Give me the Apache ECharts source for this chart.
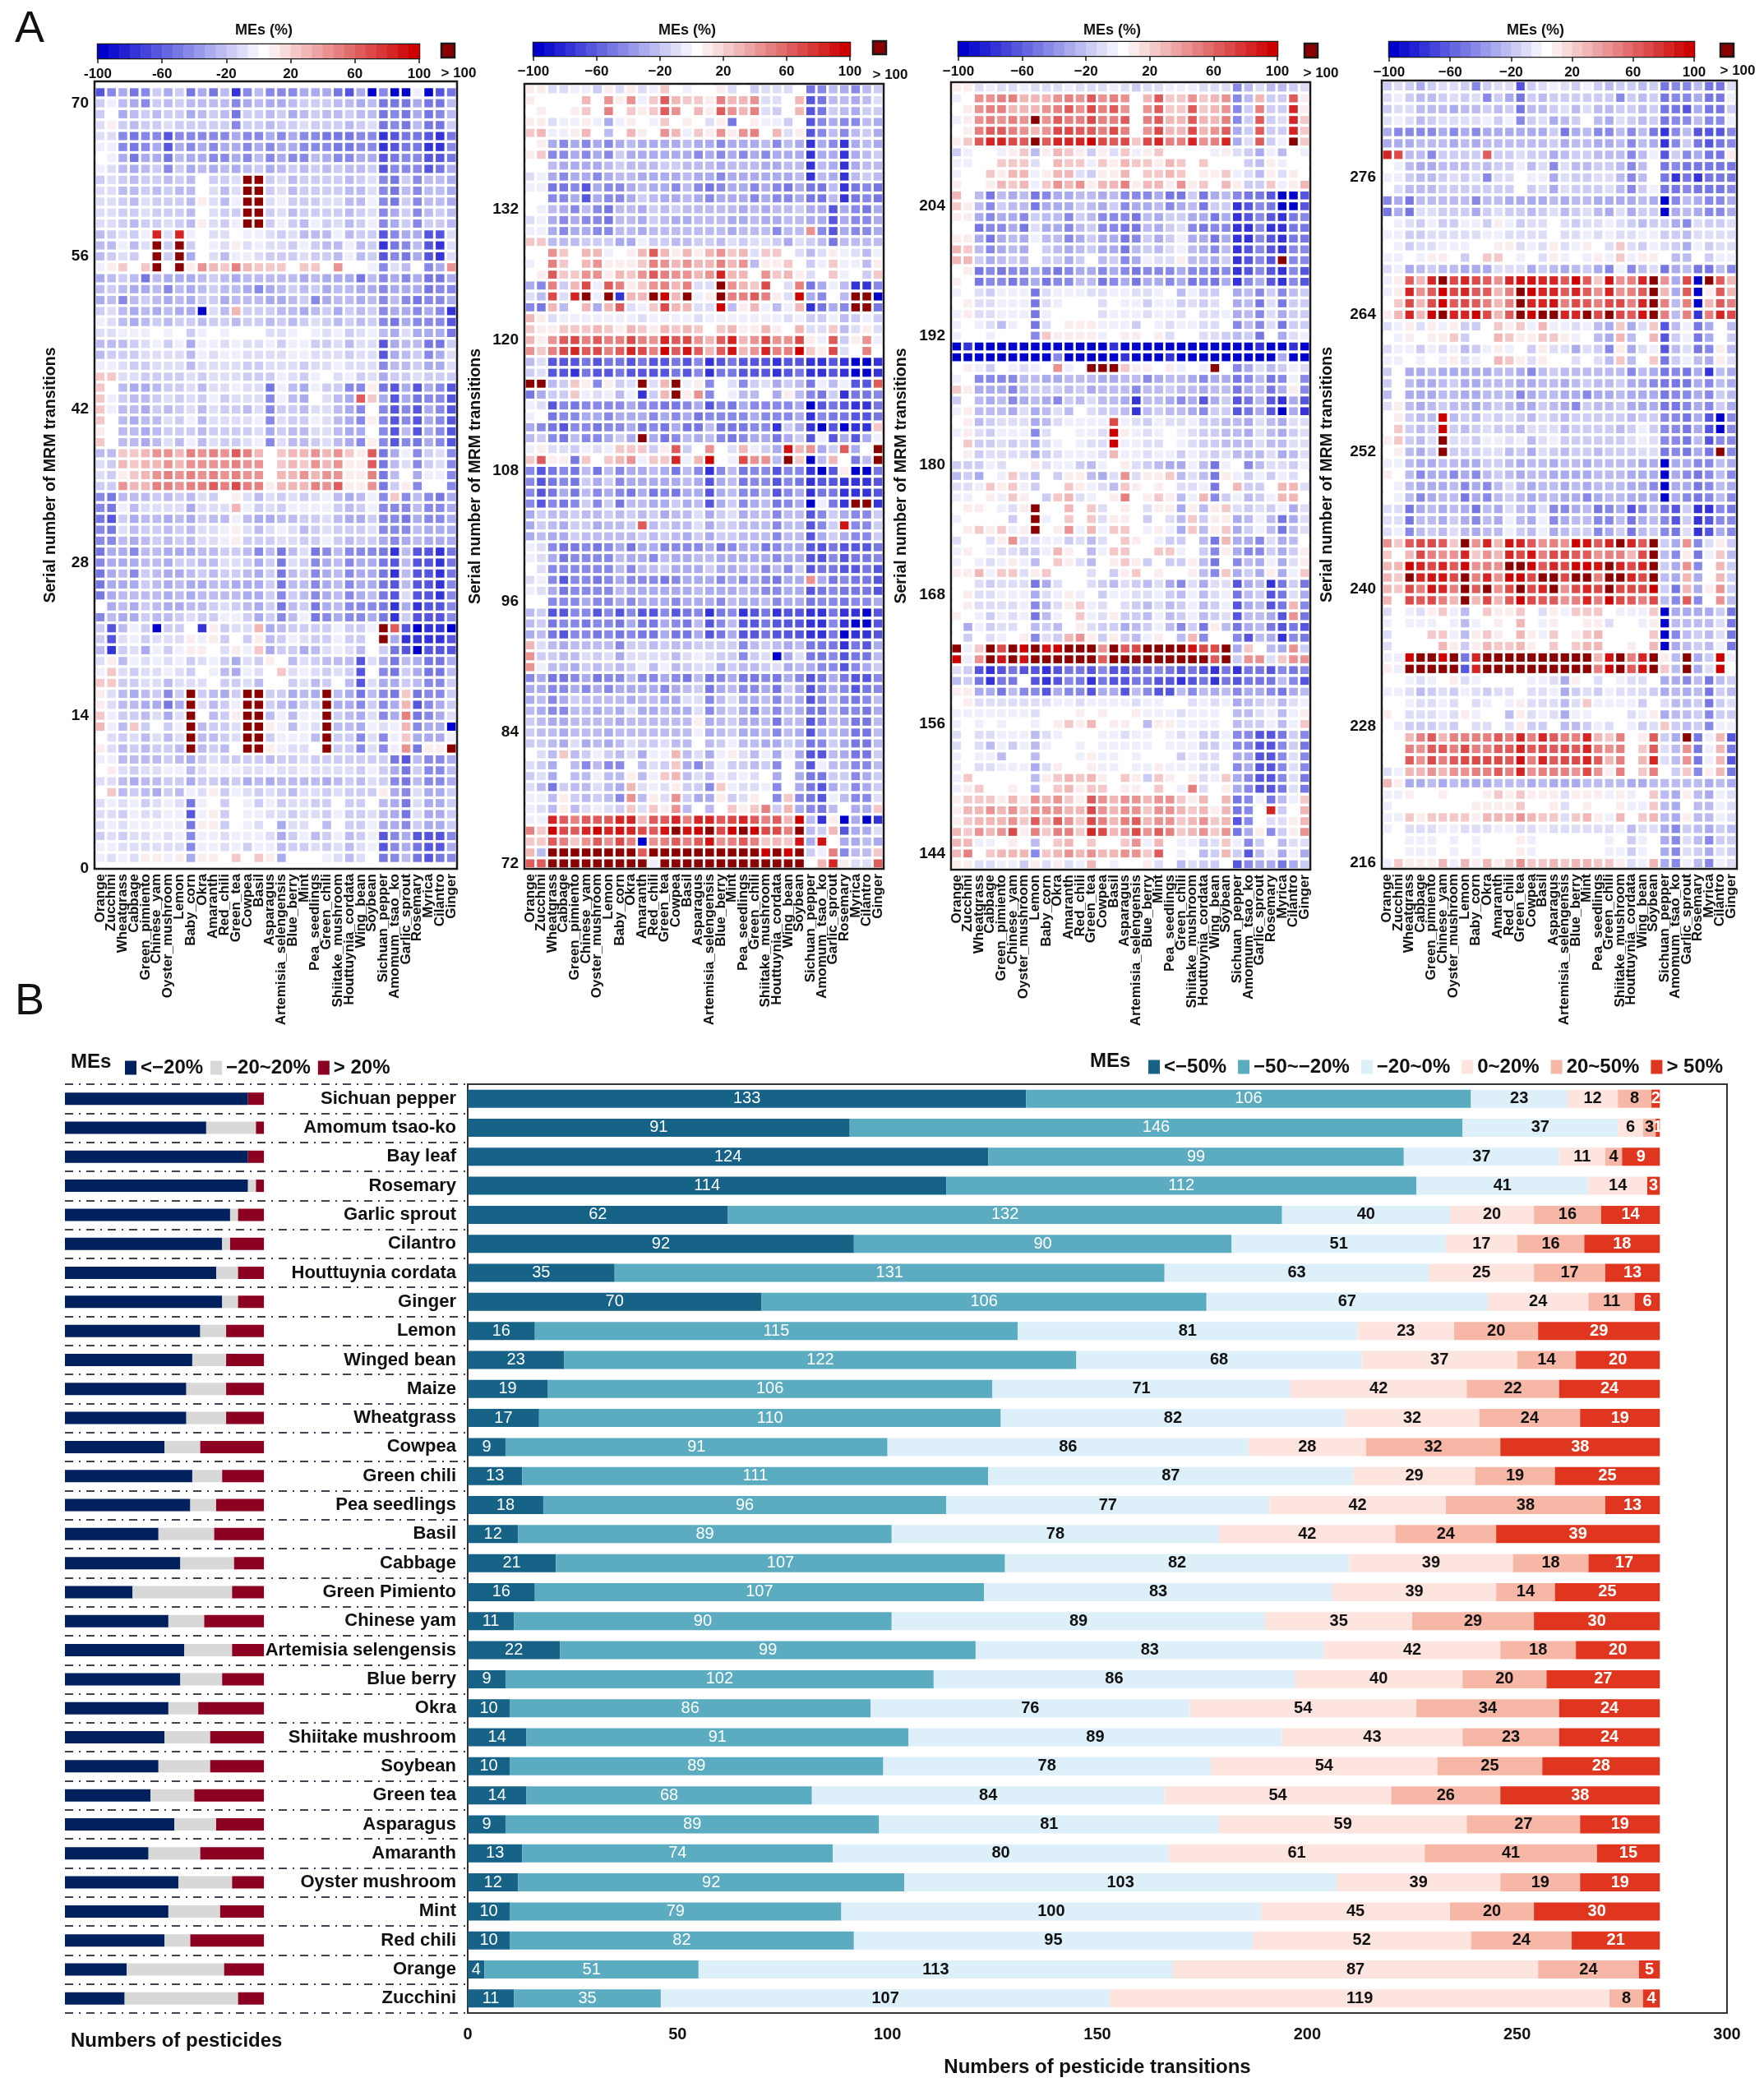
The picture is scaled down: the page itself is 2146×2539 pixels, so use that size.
<!DOCTYPE html>
<html>
<head>
<meta charset="utf-8">
<style>
  html, body { margin: 0; padding: 0; background: #fff; }
  #chart { width: 2146px; height: 2539px; }
</style>
<script src="https://cdn.jsdelivr.net/npm/echarts@6/dist/echarts.min.js"></script>
</head>
<body>
<div id="chart"></div>
<script>
// heatmap columns (same for all four panels)
const heatColumns = ['Orange','Zucchini','Wheatgrass','Cabbage','Green_pimiento','Chinese_yam','Oyster_mushroom','Lemon','Baby_corn','Okra','Amaranth','Red_chili','Green_tea','Cowpea','Basil','Asparagus','Artemisia_selengensis','Blue_berry','Mint','Pea_seedlings','Green_chili','Shiitake_mushroom','Houttuynia_cordata','Wing_bean','Soybean','Sichuan_pepper','Amomum_tsao_ko','Garlic_sprout','Rosemary','Myrica','Cilantro','Ginger'];

// MEs, one letter per cell, one string per row (top row first)
const levelValue = { '.':0, a:-5, b:-10, c:-20, d:-25, e:-32, f:-42, g:-52, h:-65, i:-80, j:-95, A:10, B:20, C:30, D:40, E:50, F:60, G:70, H:80, I:90, J:100, X:150 };

const panel1Rows = [
'hfegfcec gegdifdf ffeeeghe jfjjajhg','cadefcdc ddddfede edcccdde dgggeggd','c.edcdcc edcdgccd cedcddcd dgfgegfd','bAcdccbc ccccfccd ccbcccdc bgfgdggc',
'bbfgffhf ffffeffe feffgggf fihgghig','aafgfehe fefeefef eefffggf fihggiif','.aegeegd eeffefdf effdeffe ehgffhhg','abdedcfc edededce dcdcdcdd chfffhge',
'cbcdccdc d.ccbXXc bdccccdc bfgcfdde','bbddcdcd d.bdbXXc bdccccdd bfgdfdde','bbcdbccc dAbdaXXb acccbbdd afgcfdde','bbccbccc d.bccXXc bdccccdc bfecfdcd',
'bbcdccbc dAbcaXXc acdacbdc afecfccd','dcbcaHbH a.bb.aab cbdddadc chfeehhb','ddadbXcX c.abAbab bcacddad cigfdhib','dcbc.XcX e.bdaabc ccbccdad chfgehib',
'aAB.BX.X ADCBECBB B.BB.D.. afbd.feD','edcdgdee edcdeddd ddedeeeg dfefegge','dcdeedfd edcddefe dcdcedde efeeegff','edfdcded ecceddde edcfedde dfdfgffe',
'cbdedede ejbdCccc ddedcecd cfeefefi','abdedcdc cdccdccd cdcbcdcd cfgefffh','bbaaa.a. ca.a...b ba.abacb adebeeeg','dddcbaca eaababba caaccbdb bheddggc',
'dcccbbbb dabaabbb baabbbcb bhedcfeb','aabccbbb dbbbbccb bbcbbabb bfddceeb','BBbbcccc bcbbbccc abca.bac beccbccc','B.deedcc bdbbabbg adeaccff Aghehefh',
'Bacddcbc bcacbbbf ade.bdeF Behegffh','Baddecdc bdbccdbf ccdbbdef .fhfhefh','B.deddbc adbbbbaf bccabdef Afhfhefh','A.ddedcc cdccccbe cddbbdee .fhdhefh',
'B.ddedbd adbccbaf bddcbdef Afhfgefh','ddBBCDDC EDEDFEC. BCCDCDBA Fgeafcbf','bcCBCCDC DDDDEDD. BCBDCDAA Fgdbfcbf','bcABCDED EDEDEDD. CCDCDDAA Egd.eaaf',
'ccDCCEED EEFEGEEA CCCEDFAA DgcAf..f','fgdddcdc dbc.Abdb cbcbaded afBfdfge','fgadbbbb ebbbCacb caaaacdc afffdffe','ghcedded ecddadee ddccbdee cffgeffe',
'fgbdccdc dbbaAbdb abdcbccc bfffdeee','ffdedcdc dbbaAccc bbccacdc cefedeee','geefddee eddccdfd gdbgfdff fgidhhig','feeeddec cddbbcec gbcfedfe eghdhhig',
'gedfcdee dcdccdec gdcfedfe egidhhig','geeecded eeddeeec gddfedfe eghdhhif','gedddded eddddeec fcdfedfe dghbhhif','.edecdee ddcbcdec gdcgedff fgieihhf',
'fdeecddc bccaacec fdagfeff egichhhf','chdacjcc .iAcbbCe dccccacc aXFhjiij','chbacbbb AaAc.cAd cabccacc .Xeiiiih','dicbeaca AA.bAaBe ccedbabd .cghjhhh',
'bAdababa cbacebcA .dbcdddh begdegge','aBbcbbab c.adeab. Bbabcbch .fgceggd','BBccbbdb bb.ccbd. .cbdc.dh beecdffc','Abdedcfc XcdecXXc cedeXdeg dfgBgffc',
'Abddeege XbdcaXXc deccXeef cfeChfec','Baccdbeb X.dcAXXd adaaXcde bfeEgfeb','CadBc.ca XdccbXXA adabXdde abaCfeej','.bcbdbdb XddcbXXc aaadXccf bfaBeeea',
'Abdcdccd Xdcd.XXA abb.Xccf bfaDgAAX','aaddddcd ecbccccd ccbccccc ccghdffe','.Abcbbaa dbaaabba bbabbbbc acegcffd','bbdeddcc eccdcede ddddedcd bcfgdffe',
'.Bdcdecd abAcabcb cdbbcbcc cAefbeec','babacbab ga.c.aca cbbcc.cc .degbeec','bbcabbaa haAc.aab bcbbcacc bdegbeec','babaaaaa gAAc.ab. ebb.d.cc aeefceec',
'cbcbbaba faabaaab ecadcadc ahfehhhf','aabbbbbb faabacaa dccbcbdb ahfeghhe','ababAAaA eAA.B.BA e...abdb .gfdghgf'
];
const panel2Rows = [
'AAbbaacA bAbaB.a. .Ab.cbbb .gfdefdc','A....C.D ADaBFCBB AECCDbb. Chgddedb','.A..AB.E .BABFD.C AFDCEbc. Chgcdecc','AAbaaAae aA.aB.A. bAg.Aaac .hfeffde',
'BCaaAC.d .CA.DCaB ADADE.Cb Ahfdfdce','.Aefefef edeeeede efeeedfd eiefiede','ABffefef ceeeeeef efefefee eieeiedc','..deeeed cdddccdd dedddeed dideiedd',
'baefeefe ddeeeede efeeeeee dideidcd','aaggfhef fedeefdf gfeefefg eggdigfg','..ffehef fecdeede feeefeff eggdigfg','.adefdfg ddecdcdd dddededd ceehefge',
'baefeffg ddecdeed ddeedeed deeheffe','aaefeeff ddeddddd ddedddfd dDfheffe','BBdddccc eeaccddc cdbcbbce bcdgdddd','..DB.CCa .ACFCACA CDBCbBB. bdbAabda',
'a.EB.CDA AABEDCDC CECDdAAB .caBaadA','.AFBBDDA CBDFEDDC DHCC.DBC Ab.Ba.cB','efEcCGaF EABDECEb bXDCBG.b Egeadiif','bdGbHXaX iCCXJCXa AXEEFEAb Jef.dXXj',
'fgCd.CeC FbaBGCCb bJdACada CigefXXg','CAbaaaaa aabaaaab aaaaaaab accadcac','BAABBBCB ACBACBCB .BCAACA. CbbBdbAb','CADFGEFE EGEDHFGD CFHCDGDD GAaFcADa',
'DBEGHFGE FHGEJFIF CFICDHEE JBAGb.E.','dbhhhghg ghghhghf ihghhhih hiihijji','cbhhighh ghhhhghf igghhhih giihijji','XXdcBAfA cbXbCXaA f.bfcbec dgadahhF',
'geccBaba daicCXAD f.add.eA dfgciggf','abhfgfff feffggfe hfgeffff ejhghiig','a.gffeef eeefefeg ffffefff eifgghhg','efghffgf fegfgegg dgggffic eijhjiiB',
'dcfgdffe ceXegfde dfgfeege chahehea','aAbbcaba BBBcAFc. D.bCaceI CDecFe.X','BFAAgB.B CDaBBHaC J.aGDDdX BjdC.gdX','fhgfgdgd feedegdf ifdgffhf fijhAjjg',
'fhgfgcec feeeeede hedgffhf gihhiiih','fhgegdfe fgegfgee hedffehf eiggiiih','fhfgfcfc gddeeced hecfedgf ejagiXXi','ecddcddc dcdceddb ecbeddfd dhfceffc',
'ecdecced dcFdcddb eccdddfd dhfcIffc','edeecddd ddcdcdec eccdddfd dheceffc','abfggfgf egeeffff egfeegfe ehhghhhg','abegffff deefdeed deeeeefe ehhfhggf',
'.bffffff dfddceee ceeddfdf chgghhgh','bafhffgf efffgfee efefefge eDegfggh','abegffff deeeeeed eeedeffe ehgfgggh','..fffeff efeeefee efdeedfe egffgffe',
'dchhffhf hfhhfhgf igfihgih hiigiijh','dcgffgff geggefgd hfdhhghh hiifijjh','edghffgf gfggegge hgehhghh hiigjiih','Cbdedddd fccdcddc cccfdcde dgggighe',
'Dccddbcb ebbbbdba bccfcbje bggfhggd','Daddecdc dcadadcb becddcbe deffhfec','feggfegf fdffefgd gfeggfge fhgeghhf','eeffefef eeeefedc gedffegc ehfefhgf',
'edfecddd deddeebb fdbeedfd ehfdfgfd','deffdded ebeedeeb fdcefdfd eggdffge','cdeedddd eddddddA edceedgd dhfdeggd','cddeddde ddddddda edceedfd ehedeggd',
'ccdebede dbccbdd. dcaddeec dgfceggd','.bdBdcac dbeaaCdb eaAbdaea ehhdeggc','bce.dfdf f.dbcBef daccdcf. ehaddffd','cbe.ddad dAdaBCdb dabab.e. eggccfec',
'bdgcddbd eCbabAcc fBabbaf. eghecfec','aadAcdcd fDdAbDce eAcbA.fB fghadffb','abdAdbab cBbBADd. d.BABEcC efgd.eeB','aaHFEFFF HHCFFHEH HFGHFEFC JdiAjeji',
'EBJGFHJH IHGFIXIJ XGJXJGGE XdcCheeb','BBFEBDFD GEjDEFEF IDEFEBCB IeI.eede','CdXXXXXX XXFXXXXX XXXXXJXJ XcaEfddB','FFXXXXXX XXXaXXXX XXXXXXXX X.CHAbbF'
];
const panel3Rows = [
'AAbabbab bbabbbab cbbaaabb bfdbddcb','a.DDEECC CDEDFDED .CFBBDBC DfdCccFA','.ADEECCC DEFDGEFD .DFBBFBC DfcEccHA','aADEDEDX DFEEGEEF .EFCCFCC EfcFcbHB',
'.AEFFEDC DGGFFEGE .DGCCGCD FecFccHB','ABFHHGFX FHHHJGFG BGHEEHDE HebFcaXB','ca..aABd ACBAcAbB aAB....a Abcead.a','aa..BBBb .CBBaBAC BBACB.B. ..cdAa..',
'a..BACCa ACCbcAAC .BBCB.AA BabdAbA.','A..ACBCa BDCDACCE ACCADAB. CAccBaAC','C.dgdedg feeddedf ffeggcge dfgghjjh','BAdfcddg eeecdecf eedfedgc cihfgjjh',
'AAefeefc ddfcdfff gdecceeg eihfhigf','..gffegb eefdcffg gdecbfgf fiifiigg','AAegedea ddfeceeg fcecaeeg eiifhigg','CBdfede. cdedceeg dcdbadef dihfhiff',
'CCcedcd. ccec.dcf eabbAdde cihfhXff','.Agfgffe fgfeefef gfffeffg fihfhifh','A.gffgfe gffddgfe geefegfg eifehifh','a.bcaaag baaabbaa bba.dacc .edfcfdc',
'.Abbaaag ba...b.a acaacbcb .edgbgcc','aAbbaaag a....baa abaab.bb aedfbecc','a.abda.g b.AAAaaa c.abaabb .fdfbgcc','a..a...f BAAAAa.A A.Ab..bb cdcg.eba',
'jijjjjjj jjjjjjij jjjjjjjj jjjijjij','jjjjjjjj jfjjjjji jjjijjjj jjjjjejj','.Aac.aba .Da.XXXB AA.Aa.aX .febdcab','a.ffffdd eedddeed dfeddefe egfdgfaf',
'BAeeefdc ccdceddd fddcdded dgedgeAf','c.dedfed efcdbdde iddefehe chgdhieh','aAdddebe dbd.bccd idcddefc chgehjei','.Adcbbbe dbaaaaGa bcabbacc ddebdebb',
'aAbcaaaf b..aabJA aba.abcc ddebdecb','.Bccbcbe ba.abbJa abb.abcc dddbddbb','.Acbbbbe cbaaabCa abaacabc bdddbedb','cccab..A baacda.A bcdeeadg a.fdbbca',
'dce.aBbd .cAAdebD bAABdbdg Aacacab.','bbaBABac ..BAabdB A.A.bbag .Ccc.CCb','aa.AaBA. cBCba.AE .ABAdaCf cadcaCC.','.AA.abAX ..C.Bb.A .bAAeAdA Bbcbcaeb',
'a....c.X a.B.BbAA .c.bdBcA Aedadgeb','.ABABaAX .ADaCaBB .aAaeBdA Becadgdb','b..bADbb aacbdb.B A.acc.dg Ceefbed.','aA.abbcc aCA.daBB ..BBa.cf AeffcecA',
'a.abaAad .BAbd.AB Ac.ccAdg .fdeaebA','AACaBBbA B...b.cA B.A..Adf BeceAeaB','..bcbbbg eb..bcdb cdbefbeb bhedigcg','.Abbaaae baAa.caa bbacdadb agdchgbe',
'.Abbbbaf dbABab.b cdbdcadc ahedhgCf','A.acabag da.BabAc cdadcadc bhddehDg','.eacbb.d cd.Abcce dcadfcgA dgedghgh','.c.ba.Af bcCDAcAc daA.dCf. .fhdeifg',
'XaBXGXJX IJXXXDXF GXXXXIGG XeB.deDc','JaDXIXIX XXXXXFXX XXXXXXXF XcDDbBDD','bchihghh ihgghfhh ggfghghi gigghfgf','dcgigg.h ihfgighh gghhihgi ghgggdfh',
'AAeegdff heffheeh dfhhdfde dfeefged','.Abbbbbb baabaaaa baa..bab aedcbdba','aaaaaaab ...A.A.. Aaaabaaa .ddbadaA','a.a.a..a .ABAC.AA .dAAaaaa .dccadaB',
'b.bbaaad ba...aab aa.abacc affhhgcf','b.bdacad a..a.aaa aa.aaacc affhhfcg','a.aad..d ...aAaa. a...cabb .eehhfbf','a.bbaaae bA..Aaa. aaAaaabb .fehhfbf',
'aB.....d ABCBCA.B AcBA.Aba Befhhfbg','aAB..A.d .BCABB.A A.B.aEb. Aefhhgbg','ABBBACAD CDBAFDCD DCDDBAC. CgfagdaB','ACCDCDBD DDCCGDCD DBDDCBCA Cgf.Hc.C',
'ABCCCDBF CFDBGECE FCDDBCDB Chf.bbAC','CBDCDGAE BEEBHGCD GDFEBCDB DgeAfcAD','CCaa.A.d .BC.B..B DaC.aacb Bafc.dbb','CE.BCCCf BCDCDCCD DBF.a.dc Cchdaeae',
'AAbbaacA bAbaC.a. .Ab.dbcc .hfeegec'
];
const panel4Rows = [
'cbcecbbc fcbbhcba bcacdccd cgffdggb','bacddcbc bfcegcdc cccccfcd cgffegga','cbbddded dcdcgddc bdbddccd cggheggc','babdcbbb bacafcbe dc.debcd cgffdffa',
'effffefe feeeeeec gedffdfd gifdhhhf','eeeddded eddddddc eddeedfd eifcghgf','HGddfccc cFccbcce dccdddfd ahcfeggA','.adeeddd cdccadbf bddccdfd .gfggggg',
'aacddcbc bfbb.aae bccbbdfd .gigiggg','.bdddccc cccc.cbe bcccbdfc aggfgggf','fegddddd fddeeeed eddeeeed ejfdeffe','gegbbccc ecbccdcb dcbdebec cjedeffe',
'.abcacca acAacbb. bcbbabcd ccefbccb','aaccbbbb baabbbb. bbababba accdbbbb','.acbbaaa ..AAbabA baA.bBbc abceacbb','aa.aAA.c .BB.a.bA a.aAaBaA A.dd.caa',
'baedcdde eebbbecd edcefafd bgedggdf','aAFCHXGH GFDHIIHH FJFBIDEH XDeGjXFC','aAHDFJGH FFCEXJHH FHFDHDEF XCeFjAFC','.BGCGJFG FECEXHHI EGFEGGEH XEdEjCFE',
'ACHCJXHH JGCFXJXX HHXGXGFI XEdEiEHG','baAbAaAc c.BABaCa abadeBeb Bhdage.d','.aA.AABc ..CBAABB Aa.deCd. Chcage.c','baacabad caAa.cAb bebcfAeb ahdbgfAd',
'aa.a.aAb a.CBAbA. .b.bdBd. BgcadeAb','c.eedeee eeddefdc ddddddfd egfgeide','c.deedce edddeedd edcddcee fgggefde','d.eeedde edddfedd eefeedee egffefcd',
'bAdedcdd edcdeecd efcddcee eggfefce','.AcddJdc dbcbcdbc dcccccdc cffgehjf','.BcdcJcd cbccdbbb dccccdca cffgehjf','ABcdbXbb caabadba ccccccba bffgdhff',
'.AdecXcc cbbdcebc dccdcccb bgfgegXf','aadeedde eccdedde ddedddde ejeeffde','A.dfeefe fdcdedde eeedddee ejefgfdf','.adeeedf efdbdedd ededddee fjeegfde',
'.adfeddg efdcdedd eefeddee ejefgfdf','bbgedede gdebdebf fedgfehf dghciifg','bbgddece fdeadeaf eddffdge dfhcihff','bafdcdbd eddacdae dccfecgd cfgbihef',
'DBFGGFBX DHCIHFDE DJIFHXHF XceDfbAc','B.CGEDDH BDCHGIEG GFFDEECG XdfAgaBd','CCJHGHFJ DEDXXJFH GJJIXHGH XceDf.Cc','CBXHIIGX EHDJJGXX GXXEXXHG XdeCe.Cc',
'CBGEIHEX FXDGXGHX DGHGXGGG JcgCeADc','C.GFGECX CGCFJGFF DEHEJGFE GdfFf.Dd','b.abABad .BAAB.bA aBBB.aaa Bjeeeecg','a.aaa.ad a.A.C.aA ..AAb..a Ajddddbg',
'b...BBad ABA.CAaB .ABC.... Bjfdcdbg','b....CAc ACBBCA.B .BCC..A. Cjedcdag','aaJXXJXg HXXXXXXX XXXCIXEH XAdXecJa','AaXXXXXh HXXXXXXX XXXEJXFI XBdXebJ.',
'..aba.Ab a....aab eA.b.abb .eefdgdc','aabdcbca bcbb.bba ecbcabbb cededgcd','..abbab. ba.aAbbb dbBaaaac .bddcgcb','A.bbbabA a..dAbab eaa...ba Aeddcfcc',
'.acccbc. bb.bAcc. ddcab.ac bBcdcfaa','..CEFCEE EEFEHEHF EEHCBE.A FceXgaCh','..EDFFEG EEFFHFGF GFHEDE.B FbdDgaCg','..FDGEFG GGGFIEHF GGHFCE.C HbdDgaCh',
'baCCDCDD EEFEHDEE EDGDAE.B E.cBfACg','CAeedede eedddede eeddddee dddddede','aaA..A.. .ABABAAA bAAAaAa. BdeAdeab','a....... AAAAB..A b.A..Aaa Bde.ddab',
'aaBABBBB ACCCDCBB bBCAaC.B CdeAddab','a.bbbaab bbaabbab bbbbbadb befcdecd','..aaa.a. a...Aa.. ....a.ca .efbdfcc','..aaa.a. a...Aa.. ....aaca .efbcebc',
'aBAAACaC ACABDBBC BCCBBAba Cefadfab'
];

// y tick values of the panels
const panel1Ticks = [0, 14, 28, 42, 56, 70];
const panel2Ticks = [72, 84, 96, 108, 120, 132];
const panel3Ticks = [144, 156, 168, 180, 192, 204];
const panel4Ticks = [216, 228, 240, 252, 264, 276];
const colorBarTicks = [-100, -60, -20, 20, 60, 100];

// part B
const barCategories = ['Sichuan pepper','Amomum tsao-ko','Bay leaf','Rosemary','Garlic sprout','Cilantro','Houttuynia cordata','Ginger','Lemon','Winged bean','Maize','Wheatgrass','Cowpea','Green chili','Pea seedlings','Basil','Cabbage','Green Pimiento','Chinese yam','Artemisia selengensis','Blue berry','Okra','Shiitake mushroom','Soybean','Green tea','Asparagus','Amaranth','Oyster mushroom','Mint','Red chili','Orange','Zucchini'];
const below50 = [133,91,124,114,62,92,35,70,16,23,19,17,9,13,18,12,21,16,11,22,9,10,14,10,14,9,13,12,10,10,4,11];
const minus50to20 = [106,146,99,112,132,90,131,106,115,122,106,110,91,111,96,89,107,107,90,99,102,86,91,89,68,89,74,92,79,82,51,35];
const minus20to0 = [23,37,37,41,40,51,63,67,81,68,71,82,86,87,77,78,82,83,89,83,86,76,89,78,84,81,80,103,100,95,113,107];
const zeroTo20 = [12,6,11,14,20,17,25,24,23,37,42,32,28,29,42,42,39,39,35,42,40,54,43,54,54,59,61,39,45,52,87,119];
const plus20to50 = [8,3,4,0,16,16,17,11,20,14,22,24,32,19,38,24,18,14,29,18,20,34,23,25,26,27,41,19,20,24,24,8];
const above50 = [2,1,9,3,14,18,13,6,29,20,24,19,38,25,13,39,17,25,30,20,27,24,24,28,38,19,15,19,30,21,5,4];
const pestBelow20 = [92,71,92,92,83,79,76,79,68,64,61,61,50,64,63,47,58,34,52,60,58,52,50,47,43,55,42,57,52,50,31,30];
const pestMiddle = [0,25,0,4,4,4,11,8,13,17,20,20,18,15,13,28,27,50,18,24,21,15,23,26,22,21,26,27,26,13,49,57];
const pestAbove20 = [8,4,8,4,13,17,13,13,19,19,19,19,32,21,24,25,15,16,30,16,21,33,27,27,35,24,32,16,22,37,20,13];

const FONT = '"Liberation Sans", Arial, sans-serif';
const INK = '#1a1a1a';

// 30 steps blue - white - red, as in the colour bars
const colorSteps = [];
for (let i = 0; i < 30; i++) {
  let c;
  if (i <= 15) {
    const t = i / 15;
    c = [Math.round(255 * t), Math.round(255 * t), Math.round(205 + 50 * t)];
  } else {
    const t = (i - 15) / 14;
    c = [Math.round(255 - 50 * t), Math.round(255 * (1 - t)), Math.round(255 * (1 - t))];
  }
  colorSteps.push('rgb(' + c.join(',') + ')');
}
function meColor(v) {
  if (v > 100) return '#8b0000';
  return colorSteps[Math.min(29, Math.floor((v + 100) / 200 * 30))];
}
function decodeRows(rows, topValue) {
  const out = [];
  rows.forEach((row, r) => {
    row.replace(/ /g, '').split('').forEach((ch, c) => {
      out.push([c, topValue - r, levelValue[ch]]);
    });
  });
  return out;
}

const panels = [
  { rows: panel1Rows, top: 71,  ticks: panel1Ticks, min: 0,     max: 72,    box: [115, 556, 99, 1057],   bar: [119, 510, 54, 71],    nameGap: 43, minus: '-',      cell: [10.5, 10], key: [537, 53, 16, 17],   over: [558, 89], head: 321 },
  { rows: panel2Rows, top: 143, ticks: panel2Ticks, min: 71.5,  max: 143.5, box: [638, 1075, 102, 1057], bar: [649, 1034, 52, 68],   nameGap: 49, minus: '\u2212', cell: [10.5, 9.8], key: [1062, 50, 16, 16], over: [1083, 91], head: 836 },
  { rows: panel3Rows, top: 215, ticks: panel3Ticks, min: 142.5, max: 215.5, box: [1157, 1594, 100, 1058], bar: [1166, 1554, 51, 68], nameGap: 50, minus: '\u2212', cell: [10.5, 9.6], key: [1587, 53, 16, 17], over: [1607, 89], head: 1353 },
  { rows: panel4Rows, top: 284, ticks: panel4Ticks, min: 215.5, max: 284.5, box: [1681, 2113, 98, 1057],  bar: [1690, 2061, 51, 69], nameGap: 56, minus: '\u2212', cell: [10.2, 10.2], key: [2093, 53, 16, 16], over: [2114, 86], head: 1868 }
];

const grids = [], xAxes = [], yAxes = [], series = [], graphics = [];

function addText(text, x, y, font, align) {
  graphics.push({ type: 'text', x: x, y: y, silent: true, style: { text: text, font: font, fill: '#111', align: align || 'center', verticalAlign: 'middle' } });
}

panels.forEach((p) => {
  // heat panel
  const g = grids.length;
  grids.push({ left: p.box[0], top: p.box[2], width: p.box[1] - p.box[0], height: p.box[3] - p.box[2], show: true, borderColor: INK, borderWidth: 2.5, backgroundColor: '#fff' });
  xAxes.push({
    gridIndex: g, type: 'category', data: heatColumns,
    axisLine: { show: false },
    axisTick: { alignWithLabel: true, length: 9, lineStyle: { color: INK, width: 2 } },
    axisLabel: { interval: 0, rotate: 90, margin: 6, fontFamily: FONT, fontSize: 17, fontWeight: 'bold', color: '#111' }
  });
  yAxes.push({
    gridIndex: g, type: 'value', min: p.min, max: p.max,
    name: 'Serial number of MRM transitions', nameLocation: 'middle', nameGap: p.nameGap, nameRotate: 90,
    nameTextStyle: { fontFamily: FONT, fontSize: 19.5, fontWeight: 'bold', color: '#111' },
    splitLine: { show: false }, axisLine: { show: false },
    axisTick: { customValues: p.ticks, length: 10, lineStyle: { color: INK, width: 2 } },
    axisLabel: { customValues: p.ticks, margin: 7, fontFamily: FONT, fontSize: 19, fontWeight: 'bold', color: '#111' }
  });
  series.push({
    type: 'scatter', xAxisIndex: g, yAxisIndex: g, symbol: 'rect', symbolSize: p.cell, silent: true, progressive: 0,
    data: decodeRows(p.rows, p.top),
    itemStyle: { opacity: 1, color: (a) => meColor(a.value[2]) }
  });

  // colour bar
  const b = grids.length;
  grids.push({ left: p.bar[0], top: p.bar[2], width: p.bar[1] - p.bar[0], height: p.bar[3] - p.bar[2], show: true, borderColor: INK, borderWidth: 2.5 });
  xAxes.push({
    gridIndex: b, type: 'value', min: -100, max: 100, splitLine: { show: false }, axisLine: { show: false },
    axisTick: { customValues: colorBarTicks, length: 6, lineStyle: { color: INK, width: 1.5 } },
    axisLabel: { customValues: colorBarTicks, margin: 11, fontFamily: FONT, fontSize: 17, fontWeight: 'bold', color: '#111', formatter: (v) => (v < 0 ? p.minus + Math.abs(v) : String(v)) }
  });
  yAxes.push({ gridIndex: b, type: 'value', min: 0, max: 1, show: false });
  series.push({
    type: 'custom', xAxisIndex: b, yAxisIndex: b, silent: true,
    data: colorSteps.map((c, i) => [-100 + i * 200 / 30, -100 + (i + 1) * 200 / 30, i]),
    renderItem: (params, api) => {
      const s = api.coord([api.value(0), 0]);
      const e = api.coord([api.value(1), 1]);
      return { type: 'rect', shape: { x: s[0], y: e[1], width: e[0] - s[0] + 0.5, height: s[1] - e[1] }, style: { fill: colorSteps[api.value(2)] } };
    }
  });

  // title and the > 100 key
  addText('MEs (%)', p.head, 37, 'bold 18px ' + FONT);
  addText('> 100', p.over[0], p.over[1], 'bold 17px ' + FONT);
  graphics.push({ type: 'rect', silent: true, shape: { x: p.key[0], y: p.key[1], width: p.key[2], height: p.key[3] }, style: { fill: '#8b0000', stroke: INK, lineWidth: 2.5 } });
});

addText('A', 36, 36, '54px ' + FONT);
addText('B', 36, 1219, '54px ' + FONT);
addText('MEs', 86, 1292, 'bold 24px ' + FONT, 'left');
addText('MEs', 1326, 1291, 'bold 24px ' + FONT, 'left');
addText('Numbers of pesticides', 86, 2483, 'bold 24px ' + FONT, 'left');

// left stacked bars with the dash-dot separators
const leftGrid = grids.length;
grids.push({ left: 79, top: 1319, width: 489, height: 1130 });
xAxes.push({ gridIndex: leftGrid, type: 'value', min: 0, max: 202, show: false });
yAxes.push({
  gridIndex: leftGrid, type: 'category', inverse: true, data: barCategories,
  axisLine: { show: false }, axisTick: { show: false }, axisLabel: { show: false },
  splitLine: { show: true, interval: 0, lineStyle: { color: '#3c4250', width: 2, type: [10, 7, 2, 7] } }
});
[['<\u221220%', pestBelow20, '#00205e'], ['\u221220~20%', pestMiddle, '#d8d8d8'], ['> 20%', pestAbove20, '#8c0022']].forEach((s) => {
  series.push({ name: s[0], type: 'bar', stack: 'pest', xAxisIndex: leftGrid, yAxisIndex: leftGrid, barWidth: 15, data: s[1], itemStyle: { color: s[2] }, silent: true });
});

// main stacked bars
const mainGrid = grids.length;
grids.push({ left: 569, top: 1319, width: 1532, height: 1130, show: true, borderColor: '#333', borderWidth: 2 });
xAxes.push({
  gridIndex: mainGrid, type: 'value', min: 0, max: 300, interval: 50, splitLine: { show: false }, axisLine: { show: false },
  axisTick: { length: 7, lineStyle: { color: '#333', width: 2 } },
  axisLabel: { margin: 16, fontFamily: FONT, fontSize: 20, fontWeight: 'bold', color: '#111' },
  name: 'Numbers of pesticide transitions', nameLocation: 'middle', nameGap: 54,
  nameTextStyle: { fontFamily: FONT, fontSize: 24, fontWeight: 'bold', color: '#111' }
});
yAxes.push({
  gridIndex: mainGrid, type: 'category', inverse: true, data: barCategories,
  axisLine: { show: false }, axisTick: { show: false },
  axisLabel: { interval: 0, margin: 14, padding: [14, 0, 0, 0], fontFamily: FONT, fontSize: 22, fontWeight: 'bold', color: '#111' }
});
[['<\u221250%', below50, '#176287', '#fff', 'normal'],
 ['\u221250~\u221220%', minus50to20, '#5bacc0', '#fff', 'normal'],
 ['\u221220~0%', minus20to0, '#ddeff9', '#111', 'bold'],
 ['0~20%', zeroTo20, '#fde4df', '#111', 'bold'],
 ['20~50%', plus20to50, '#f7b7a7', '#111', 'bold'],
 ['> 50%', above50, '#e0351e', '#fff', 'bold']].forEach((s) => {
  series.push({
    name: s[0], type: 'bar', stack: 'trans', xAxisIndex: mainGrid, yAxisIndex: mainGrid, barWidth: 22, data: s[1], silent: true,
    itemStyle: { color: s[2] },
    label: { show: true, position: 'inside', fontFamily: FONT, fontSize: 20, color: s[3], fontWeight: s[4], formatter: (a) => (a.value ? a.value : '') }
  });
});

const legendText = { fontFamily: FONT, fontSize: 24, fontWeight: 'bold', color: '#111' };
const chart = echarts.init(document.getElementById('chart'));
chart.setOption({
  animation: false,
  backgroundColor: '#fff',
  textStyle: { fontFamily: FONT },
  grid: grids,
  xAxis: xAxes,
  yAxis: yAxes,
  series: series,
  legend: [
    { left: 147, top: 1282, icon: 'rect', itemWidth: 14, itemHeight: 17, itemGap: 9, selectedMode: false, textStyle: legendText, data: ['<\u221220%', '\u221220~20%', '> 20%'] },
    { left: 1392, top: 1281, icon: 'rect', itemWidth: 14, itemHeight: 17, itemGap: 14, selectedMode: false, textStyle: legendText, data: ['<\u221250%', '\u221250~\u221220%', '\u221220~0%', '0~20%', '20~50%', '> 50%'] }
  ],
  graphic: { elements: graphics }
});
window.addEventListener('resize', () => {
  chart.resize();
});
</script>
</body>
</html>
